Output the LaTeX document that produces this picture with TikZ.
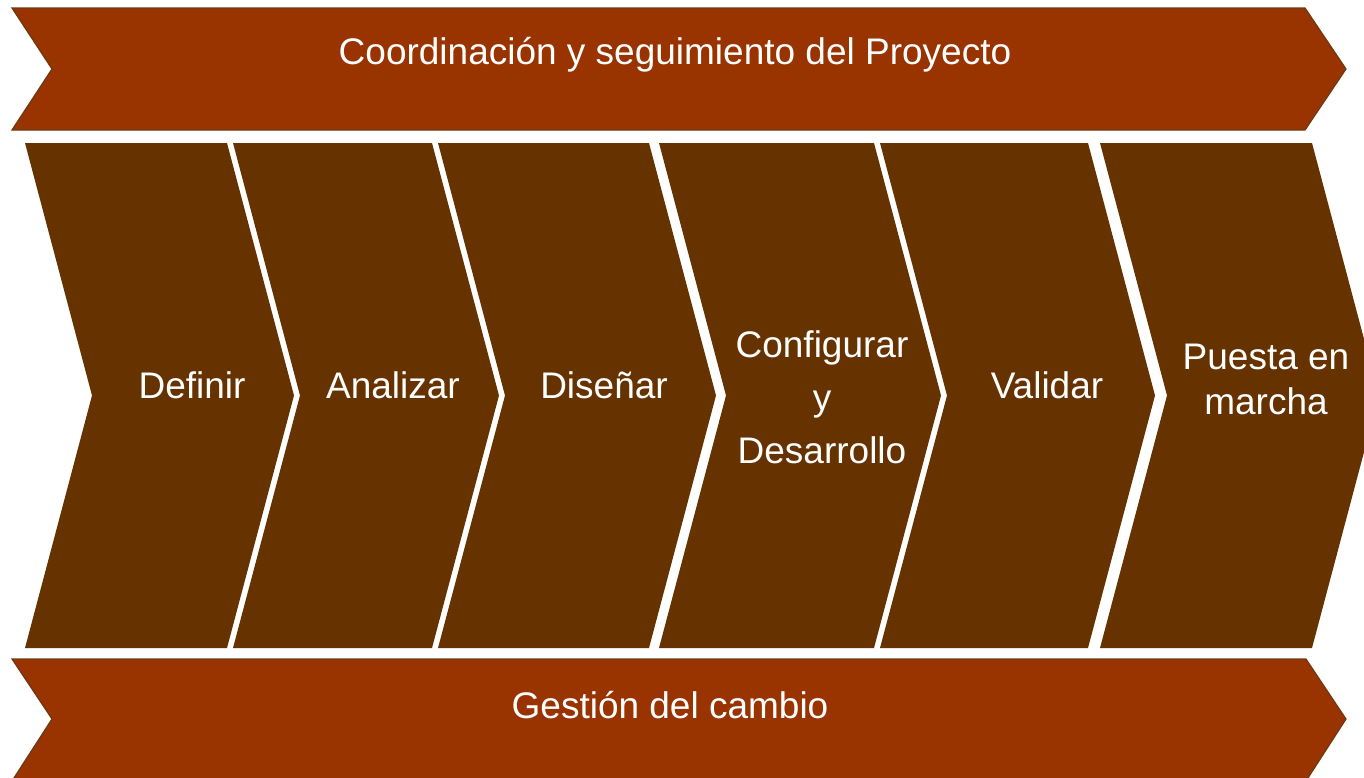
\documentclass[tikz,border=0pt]{standalone}
\usepackage{fontspec}
\setmainfont{Liberation Sans}
\definecolor{bandfill}{HTML}{993300}
\definecolor{bandline}{HTML}{6B3A12}
\definecolor{chevfill}{HTML}{663300}
\begin{document}
\begin{tikzpicture}[x=1pt,y=-1pt,
  band/.style={fill=bandfill,draw=bandline,line width=1.2pt,line join=miter},
  chev/.style={fill=chevfill},
  lbl/.style={text=white,font=\fontsize{37}{47}\selectfont,align=center,inner sep=0pt}]
\useasboundingbox (0,0) rectangle (1364,777);
\clip (0,0) rectangle (1364,777);
% top band
\draw[band] (12,8) -- (1305,8) -- (1346,69) -- (1305,130) -- (12,130) -- (52,69) -- cycle;
\node[lbl] (coord) at (675,55) {Coordinación y seguimiento del Proyecto};
% chevrons
\foreach \L/\R in {25/227, 233/432, 438/649, 659/874, 880/1088, 1100/1312}{
  \fill[chev] (\L,143) -- (\R,143) -- ({\R+67},395.5) -- (\R,648) -- (\L,648) -- ({\L+67},395.5) -- cycle;
}
\node[lbl] (definir) at (192,385) {Definir};
\node[lbl] (analizar) at (393,385) {Analizar};
\node[lbl] (disenar) at (604,385) {Diseñar};
\node[lbl,font=\fontsize{37}{53}\selectfont] (config) at (822,397) {Configurar\\y\\Desarrollo};
\node[lbl] (validar) at (1047,385) {Validar};
\node[lbl,font=\fontsize{37}{45}\selectfont] (puesta) at (1266,379) {Puesta en\\marcha};
% bottom band
\draw[band] (12,659) -- (1306,659) -- (1346,719) -- (1306,781) -- (12,781) -- (52,719) -- cycle;
\node[lbl] (gestion) at (670,705) {Gestión del cambio};
\end{tikzpicture}
\end{document}
